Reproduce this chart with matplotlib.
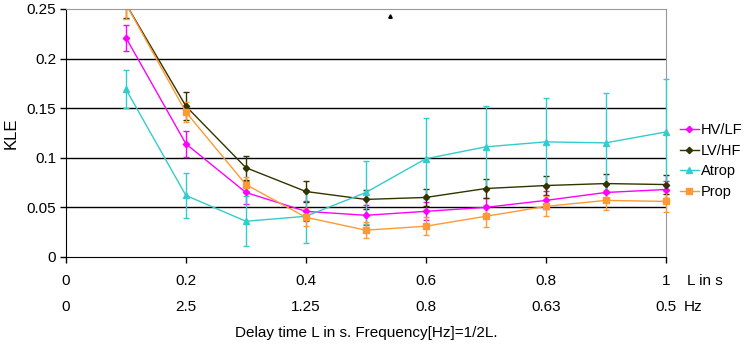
import numpy as np
import matplotlib.pyplot as plt
from matplotlib.lines import Line2D
from matplotlib.patches import Rectangle

plt.rcParams['font.family'] = ['Liberation Sans', 'DejaVu Sans']

# delay time L in s
delay = [0.1, 0.2, 0.3, 0.4, 0.5, 0.6, 0.7, 0.8, 0.9, 1.0]

hvlf = [0.221, 0.114, 0.065, 0.046, 0.042, 0.046, 0.050, 0.057, 0.065, 0.068]
hvlf_err = [0.013, 0.013, 0.012, 0.010, 0.010, 0.009, 0.009, 0.009, 0.009, 0.009]

lvhf = [0.255, 0.152, 0.090, 0.066, 0.058, 0.060, 0.069, 0.072, 0.074, 0.073]
lvhf_err = [0.014, 0.014, 0.012, 0.011, 0.010, 0.009, 0.010, 0.010, 0.010, 0.010]

atrop = [0.169, 0.062, 0.036, 0.041, 0.065, 0.099, 0.111, 0.116, 0.115, 0.126]
atrop_err = [0.019, 0.023, 0.025, 0.027, 0.032, 0.041, 0.041, 0.044, 0.050, 0.053]

prop = [0.255, 0.146, 0.073, 0.040, 0.027, 0.031, 0.041, 0.051, 0.057, 0.056]
prop_err = [0.015, 0.010, 0.008, 0.009, 0.008, 0.009, 0.011, 0.010, 0.010, 0.011]

tick_L = [0, 0.2, 0.4, 0.6, 0.8, 1.0]
tick_L_labels = ['0', '0.2', '0.4', '0.6', '0.8', '1']
tick_hz_labels = ['0', '2.5', '1.25', '0.8', '0.63', '0.5']
yticks = [0, 0.05, 0.1, 0.15, 0.2, 0.25]
ytick_labels = ['0', '0.05', '0.1', '0.15', '0.2', '0.25']

stray_mark = (0.54, 0.243)

series = [
    ('HV/LF', hvlf, hvlf_err, '#FF00FF', 'D', 3.2),
    ('LV/HF', lvhf, lvhf_err, '#333300', 'D', 3.2),
    ('Atrop', atrop, atrop_err, '#33CCCC', '^', 4.2),
    ('Prop', prop, prop_err, '#FF9933', 's', 4.2),
]

fig = plt.figure(figsize=(7.44, 3.44), dpi=100)
ax = fig.add_axes([0.0887, 0.253, 0.806, 0.721])

for y in yticks[1:-1]:
    ax.axhline(y, color='black', linewidth=1.0, zorder=1)

# clip only at top/bottom so the error bars at L=1 are drawn whole
clip = Rectangle((-0.02, 0), 1.05, 1.0, transform=ax.transAxes,
                 facecolor='none', edgecolor='none')
ax.add_patch(clip)

handles = []
for name, vals, err, col, mk, ms in series:
    cont = ax.errorbar(delay, vals, yerr=err, color=col, linewidth=1.0,
                       marker=mk, markersize=ms, elinewidth=1.0, capsize=2.5,
                       capthick=1.0, zorder=3)
    for art in cont.get_children():
        art.set_clip_path(clip)
    handles.append(Line2D([0], [0], color=col, marker=mk, markersize=ms,
                          linewidth=1.0, label=name))

ax.plot(*stray_mark, marker='^', color='black', markersize=2.5, zorder=4)

ax.set_xlim(0, 1.0)
ax.set_ylim(0, 0.25)
ax.set_yticks(yticks)
ax.set_yticklabels(ytick_labels, fontsize=11)
ax.set_xticks(tick_L)
ax.set_xticklabels([])
ax.tick_params(axis='both', direction='out', length=4, width=1, color='black')
ax.tick_params(axis='y', pad=3)

for side in ['top', 'right']:
    ax.spines[side].set_color('#999999')
for side in ['left', 'bottom']:
    ax.spines[side].set_color('black')

trans = ax.get_xaxis_transform()
for x, l1, l2 in zip(tick_L, tick_L_labels, tick_hz_labels):
    ax.text(x, -0.097, l1, transform=trans, ha='center', va='center', fontsize=11)
    ax.text(x, -0.202, l2, transform=trans, ha='center', va='center', fontsize=11)
ax.text(1.035, -0.097, 'L in s', transform=trans, ha='left', va='center', fontsize=11)
ax.text(1.03, -0.202, 'Hz', transform=trans, ha='left', va='center', fontsize=11)
ax.text(0.5, -0.306, 'Delay time L in s. Frequency[Hz]=1/2L.', transform=ax.transAxes,
        ha='center', va='center', fontsize=11)

ax.set_ylabel('KLE', fontsize=12, labelpad=6)

fig.legend(handles=handles, loc='center left', bbox_to_anchor=(0.906, 0.532),
           frameon=False, fontsize=10.5, handlelength=1.3, handletextpad=0.15,
           labelspacing=0.45, borderaxespad=0)

fig.savefig('out.png', dpi=100, facecolor='white')
